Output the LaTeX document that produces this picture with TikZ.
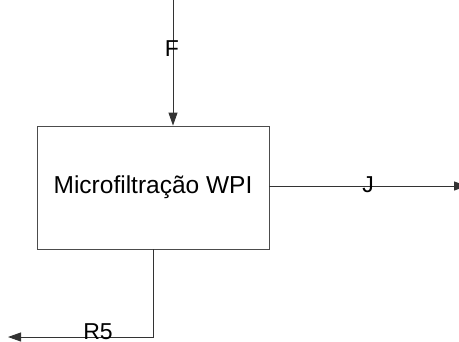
\documentclass[tikz,border=0pt]{standalone}
\usepackage{fontspec}
\setmainfont{Liberation Sans}
\usetikzlibrary{arrows.meta}

\begin{document}
\begin{tikzpicture}[x=1pt, y=-1pt,
    flow/.style={draw=black!80, line width=0.9pt, -{Triangle[length=13pt, width=9pt]}},
    unitbox/.style={draw=black!70, line width=0.9pt, minimum width=232pt, minimum height=123pt,
        inner sep=0pt, font=\fontsize{24.5}{28}\selectfont},
    flowlabel/.style={inner sep=0pt, font=\fontsize{23}{27}\selectfont}]
    % Frame of the picture, in pixel units (y runs downwards)
    \useasboundingbox (0,0) rectangle (459,341);

    % Process unit
    \node[unitbox] (mf) at (153,187.5) {Microfiltração WPI};

    % Free ends of the streams
    \coordinate (fin) at (173,0);
    \coordinate (jout) at (467,186);
    \coordinate (rout) at (8,337);

    % Streams
    \draw[flow] (fin) -- (fin |- mf.north);
    \draw[flow] (mf.east |- jout) -- (jout);
    \draw[flow] (mf.south) |- (rout);

    % Stream labels (drawn over the lines)
    \node[flowlabel] (lF) at (172,49) {F};
    \node[flowlabel] (lJ) at (368,185) {J};
    \node[flowlabel] (lR) at (98,332) {R5};
\end{tikzpicture}
\end{document}
